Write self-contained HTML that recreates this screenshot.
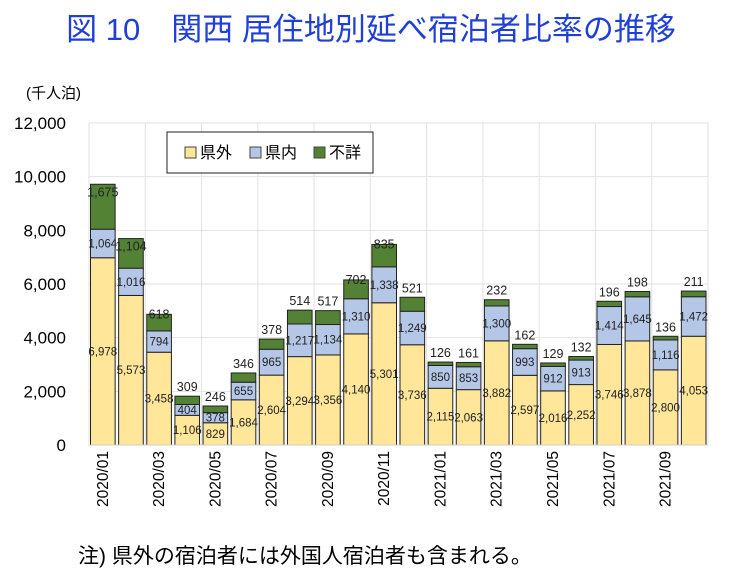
<!DOCTYPE html>
<html><head><meta charset="utf-8"><style>
body{margin:0;background:#fff;width:742px;height:581px;overflow:hidden}
</style></head><body>
<svg id="s" width="742" height="581" xmlns="http://www.w3.org/2000/svg" font-family="'Liberation Sans','Noto Sans CJK JP',sans-serif">
<text x="371" y="40" text-anchor="middle" font-size="31" fill="#1f3fd6" font-family="'Liberation Sans','Noto Sans CJK JP',sans-serif">図 10　関西  居住地別延べ宿泊者比率の推移</text>
<text x="26" y="98" font-size="15" fill="#000">(千人泊)</text>
<text x="78" y="563" font-size="21" fill="#000">注) 県外の宿泊者には外国人宿泊者も含まれる。</text>
</svg>
<script>
const s=document.getElementById('s');const NS='http://www.w3.org/2000/svg';
function el(t,a,txt){const e=document.createElementNS(NS,t);for(const k in a)e.setAttribute(k,a[k]);if(txt!=null)e.textContent=txt;s.appendChild(e);return e;}
const L=89,R=708,Y0=445,Y1=123,sc=(Y0-Y1)/12000;
const A=[6978,5573,3458,1106,829,1684,2604,3294,3356,4140,5301,3736,2115,2063,3882,2597,2016,2252,3746,3878,2800,4053];
const B=[1064,1016,794,404,378,655,965,1217,1134,1310,1338,1249,850,853,1300,993,912,913,1414,1645,1116,1472];
const C=[1675,1104,618,309,246,346,378,514,517,702,835,521,126,161,232,162,129,132,196,198,136,211];
const f=n=>n.toLocaleString('en-US');
for(let i=0;i<=6;i++){const y=Y0-i*2000*sc;el('line',{x1:L,x2:R,y1:y,y2:y,stroke:'#e2e2e2','stroke-width':1});
el('text',{x:66,y:y+6,'text-anchor':'end','font-size':17,fill:'#000'},f(i*2000));}
const w=(R-L)/22;
for(let i=0;i<=11;i++){const x=L+i*2*w;el('line',{x1:x,x2:x,y1:Y1,y2:Y0,stroke:'#e2e2e2'});}
for(let i=0;i<22;i++){const x=L+i*w+1.5,bw=w-3.5;
let ya=Y0-A[i]*sc,yb=ya-B[i]*sc,yc=yb-C[i]*sc;
el('rect',{x,y:ya,width:bw,height:Y0-ya,fill:'#ffe699',stroke:'#222','stroke-width':1});
el('rect',{x,y:yb,width:bw,height:ya-yb,fill:'#b4c7e7',stroke:'#222','stroke-width':1});
el('rect',{x,y:yc,width:bw,height:yb-yc,fill:'#548235',stroke:'#222','stroke-width':1});
const cx=x+bw/2;
el('text',{x:cx,y:(Y0+ya)/2+4,'text-anchor':'middle','font-size':11.5,fill:'#222'},f(A[i]));
el('text',{x:cx,y:(ya+yb)/2+4,'text-anchor':'middle','font-size':11.5,fill:'#222'},f(B[i]));
const ly=(yb-yc)>25?yc+12:((yb-yc)>15?yc+4:yc-5);
el('text',{x:cx,y:ly,'text-anchor':'middle','font-size':12.5,fill:'#222'},f(C[i]));
if(i%2==0){const lab=(i<12?'2020/':'2021/')+String(((i%12)+1)).padStart(2,'0');
el('text',{x:0,y:0,'text-anchor':'end','font-size':15.5,fill:'#000',transform:`translate(${cx+5},451) rotate(-90)`},lab);}
}
el('line',{x1:L,x2:R,y1:Y0,y2:Y0,stroke:'#ccc'});
el('rect',{x:167,y:132,width:206,height:41,fill:'#fff',stroke:'#222'});
[['#ffe699','県外',185],['#b4c7e7','県内',250],['#548235','不詳',314]].forEach(([c,t,x])=>{
el('rect',{x,y:147,width:11,height:11,fill:c,stroke:'#444'});
el('text',{x:x+15,y:158,'font-size':16,fill:'#000'},t);});
</script>
</body></html>
